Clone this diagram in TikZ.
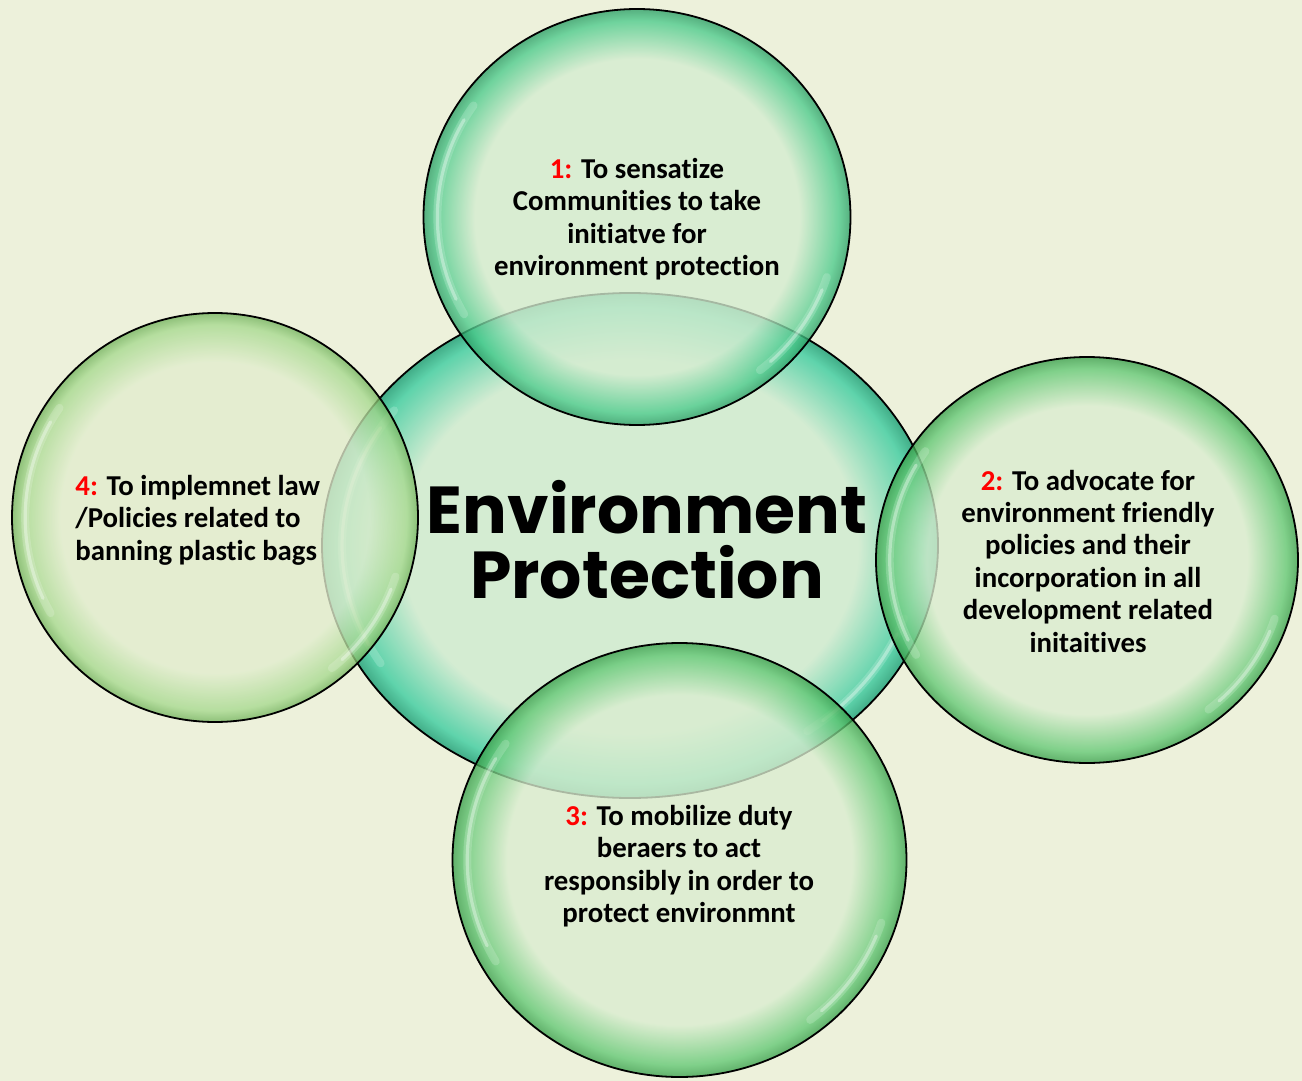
\documentclass[tikz,border=0pt]{standalone}
\usepackage{fontspec}
\setmainfont{Carlito}[Ligatures={NoCommon}]
\newfontfamily\titlefont{Poppins}
\usetikzlibrary{shapes.geometric}
\definecolor{bg}{HTML}{EDF1DB}
\definecolor{numred}{HTML}{FF0000}
% centre ellipse (teal green)
\definecolor{cin}{HTML}{D2ECD2}
\definecolor{crim}{HTML}{4FD0A6}
\definecolor{cdark}{HTML}{2FA57E}
% top circle
\definecolor{tin}{HTML}{D4ECD0}
\definecolor{trim}{HTML}{4CCB8C}
\definecolor{tdark}{HTML}{2C9E66}
% right / bottom circles
\definecolor{gin}{HTML}{DAEDD0}
\definecolor{grim}{HTML}{62C874}
\definecolor{gdark}{HTML}{3A9F4C}
% left circle
\definecolor{lin}{HTML}{E2EDCE}
\definecolor{lrim}{HTML}{A6D98E}
\definecolor{ldark}{HTML}{74B35E}
\pgfdeclareradialshading{bubC}{\pgfpoint{0bp}{0bp}}{color(0bp)=(cin); color(18.5bp)=(cin); color(23.6bp)=(crim); color(25bp)=(cdark); color(50bp)=(cdark)}
\pgfdeclareradialshading{bubT}{\pgfpoint{0bp}{0bp}}{color(0bp)=(tin); color(19bp)=(tin); color(23.6bp)=(trim); color(25bp)=(tdark); color(50bp)=(tdark)}
\pgfdeclareradialshading{bubG}{\pgfpoint{0bp}{0bp}}{color(0bp)=(gin); color(19bp)=(gin); color(23.6bp)=(grim); color(25bp)=(gdark); color(50bp)=(gdark)}
\pgfdeclareradialshading{bubL}{\pgfpoint{0bp}{0bp}}{color(0bp)=(lin); color(19bp)=(lin); color(23.6bp)=(lrim); color(25bp)=(ldark); color(50bp)=(ldark)}
\newcommand\hlarcs[3]{%
  \draw[hlsoft] (#1.center) ++(145:{0.935*#2} and {0.935*#3}) arc[start angle=145,end angle=210,x radius={0.935*#2},y radius={0.935*#3}];
  \draw[hl] (#1.center) ++(150:{0.935*#2} and {0.935*#3}) arc[start angle=150,end angle=205,x radius={0.935*#2},y radius={0.935*#3}];
  \draw[hlsoft] (#1.center) ++(-52:{0.935*#2} and {0.935*#3}) arc[start angle=-52,end angle=-18,x radius={0.935*#2},y radius={0.935*#3}];
  \draw[hl] (#1.center) ++(-48:{0.935*#2} and {0.935*#3}) arc[start angle=-48,end angle=-22,x radius={0.935*#2},y radius={0.935*#3}];
}
\tikzset{
  bubble/.style={ellipse, draw=black, line width=0.9pt, inner sep=0pt, shade, fill opacity=0.78},
  hl/.style={white, opacity=0.35, line width=1.6pt, line cap=round},
  hlsoft/.style={white, opacity=0.18, line width=4pt, line cap=round},
  txt/.style={font=\bfseries\fontsize{14.4}{16.2}\selectfont, text=black, align=center, inner sep=0pt},
  title/.style={font=\titlefont\bfseries\fontsize{33.2}{32.5}\selectfont, align=center, inner sep=0pt},
}
\newcommand\num[1]{\textcolor{numred}{#1}}
\begin{document}
\begin{tikzpicture}[x=0.5pt, y=-0.5pt]
  \fill[bg] (0,0) rectangle (1302,1081);
  \useasboundingbox (0,0) rectangle (1302,1081);
  % bubbles
  \node[bubble, shading=bubC, fill opacity=0.9, minimum width=308pt, minimum height=252.5pt] (core) at (630,545.5) {};
  \hlarcs{core}{154pt}{126pt}
  \node[bubble, shading=bubT, minimum width=213.5pt, minimum height=208pt] (b1) at (637,217) {};
  \hlarcs{b1}{106.75pt}{104pt}
  \node[bubble, shading=bubG, minimum width=211pt, minimum height=203pt] (b2) at (1087,560) {};
  \hlarcs{b2}{105.5pt}{101.5pt}
  \node[bubble, shading=bubG, minimum width=227pt, minimum height=217pt] (b3) at (679.5,860) {};
  \hlarcs{b3}{113.5pt}{108.5pt}
  \node[bubble, shading=bubL, minimum width=203pt, minimum height=204.5pt] (b4) at (215,517.5) {};
  \hlarcs{b4}{101.5pt}{102.25pt}
  % texts
  \node[title] (ttl) at (647,540) {Environment\\Protection};
  \node[txt] (t1) at (637,219) {\num{1:} To sensatize\\Communities to take\\initiatve for\\environment protection};
  \node[txt] (t2) at (1088,561) {\num{2:} To advocate for\\environment friendly\\policies and their\\incorporation in all\\development related\\initaitives};
  \node[txt] (t3) at (679,866) {\num{3:} To mobilize duty\\beraers to act\\responsibly in order to\\protect environmnt};
  \node[txt, align=left, anchor=west] (t4) at (75,520) {\num{4:} To implemnet law\\/Policies related to\\banning plastic bags};
\end{tikzpicture}
\end{document}
